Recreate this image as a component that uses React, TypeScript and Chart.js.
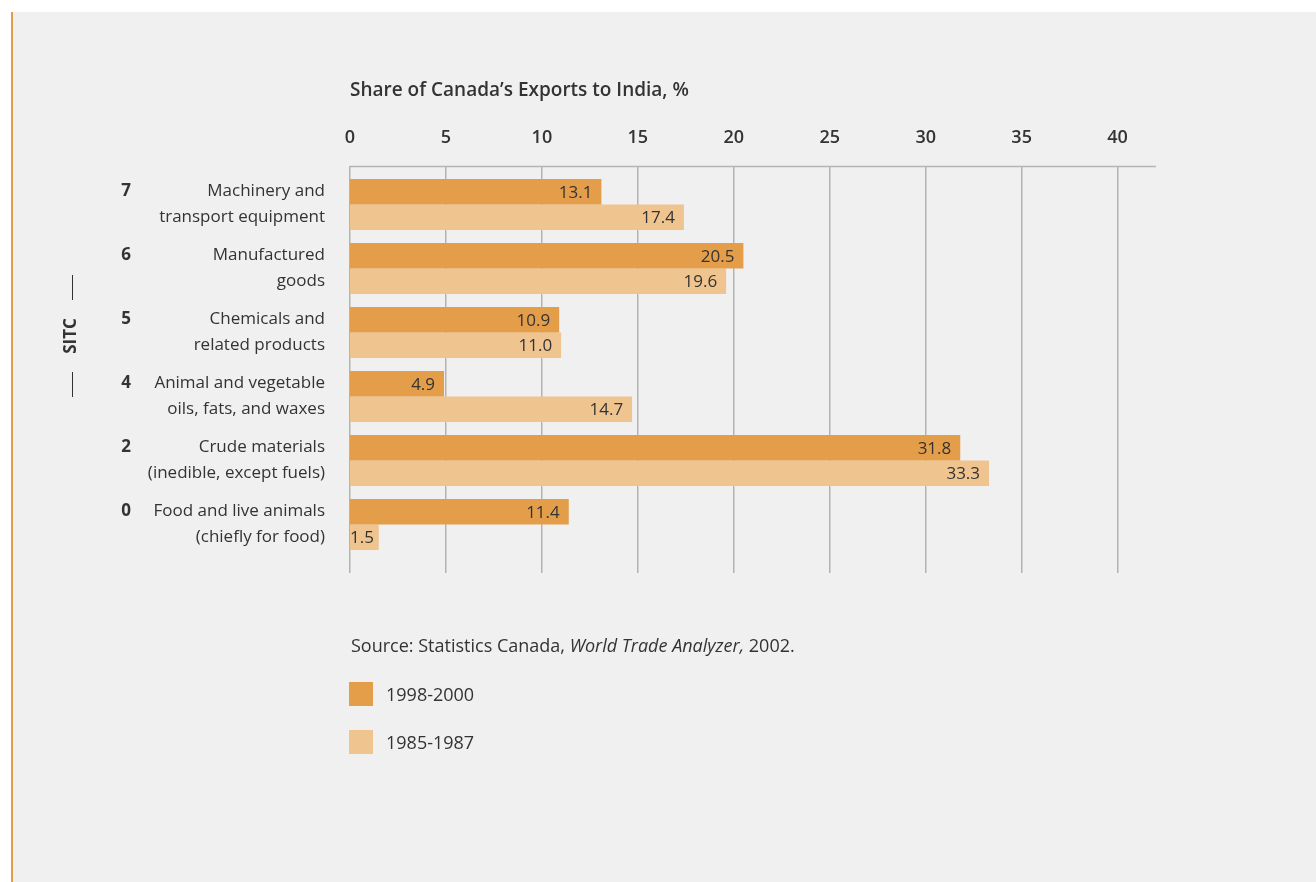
import React, { useEffect, useRef } from "react";
import { Chart, registerables } from "chart.js";

Chart.register(...registerables);

const categories: string[][] = [
  ["Machinery and", "transport equipment"],
  ["Manufactured", "goods"],
  ["Chemicals and", "related products"],
  ["Animal and vegetable", "oils, fats, and waxes"],
  ["Crude materials", "(inedible, except fuels)"],
  ["Food and live animals", "(chiefly for food)"],
];
const sitcCodes: string[] = ["7", "6", "5", "4", "2", "0"];
const recentValues: number[] = [13.1, 20.5, 10.9, 4.9, 31.8, 11.4];
const earlierValues: number[] = [17.4, 19.6, 11.0, 14.7, 33.3, 1.5];
const seriesNames: string[] = ["1998-2000", "1985-1987"];
const xTicks: number[] = [0, 5, 10, 15, 20, 25, 30, 35, 40];
const chartTitle = "Share of Canada\u2019s Exports to India, %";
const axisName = "SITC";

const DARK = "#E49E4A";
const LIGHT = "#F0C48E";
const TEXT = "#333333";
const GRID = "#b3b3b3";
const FONT = "'Open Sans', 'DejaVu Sans', sans-serif";

const gridPlugin = {
  id: "customGrid",
  beforeDatasetsDraw(chart: any) {
    const { ctx, chartArea, scales } = chart;
    const x = scales.x;
    const top = chartArea.top - 6;
    const bottom = chartArea.bottom + 16.5;
    ctx.save();
    ctx.strokeStyle = GRID;
    ctx.lineWidth = 1.5;
    xTicks.forEach((v) => {
      const px = Math.round(x.getPixelForValue(v)) - 0.25;
      ctx.beginPath();
      ctx.moveTo(px, top);
      ctx.lineTo(px, bottom);
      ctx.stroke();
    });
    ctx.beginPath();
    ctx.moveTo(x.getPixelForValue(0) - 0.75, top);
    ctx.lineTo(chartArea.right, top);
    ctx.stroke();
    ctx.restore();
  },
};

const labelPlugin = {
  id: "valueLabels",
  afterDatasetsDraw(chart: any) {
    const { ctx } = chart;
    ctx.save();
    ctx.font = `17px ${FONT}`;
    ctx.fillStyle = TEXT;
    ctx.textBaseline = "middle";
    chart.data.datasets.forEach((ds: any, di: number) => {
      const meta = chart.getDatasetMeta(di);
      meta.data.forEach((bar: any, i: number) => {
        const text = Number(ds.data[i]).toFixed(1);
        const w = ctx.measureText(text).width;
        let tx = bar.x - 9;
        if (tx - w < bar.base) {
          ctx.textAlign = "left";
          tx = bar.base;
        } else {
          ctx.textAlign = "right";
        }
        ctx.fillText(text, tx, bar.y + 1);
      });
    });
    ctx.restore();
  },
};

const sitcPlugin = {
  id: "sitcLabel",
  afterDraw(chart: any) {
    const { ctx } = chart;
    const cx = 71;
    const cy = 336;
    ctx.save();
    ctx.strokeStyle = TEXT;
    ctx.lineWidth = 1;
    ctx.beginPath();
    ctx.moveTo(72.5, 275);
    ctx.lineTo(72.5, 300);
    ctx.moveTo(72.5, 372);
    ctx.lineTo(72.5, 397);
    ctx.stroke();
    ctx.translate(cx, cy);
    ctx.rotate(-Math.PI / 2);
    ctx.font = `bold 17px ${FONT}`;
    ctx.fillStyle = TEXT;
    ctx.textAlign = "center";
    ctx.textBaseline = "middle";
    ctx.fillText(axisName, 0, 0);
    ctx.restore();
  },
};

export default function App() {
  const ref = useRef<HTMLCanvasElement | null>(null);

  useEffect(() => {
    if (!ref.current) return;
    const chart = new Chart(ref.current, {
      type: "bar",
      data: {
        labels: categories,
        datasets: [
          {
            label: seriesNames[0],
            data: recentValues,
            backgroundColor: DARK,
            barPercentage: 1,
            categoryPercentage: 0.8,
          },
          {
            label: seriesNames[1],
            data: earlierValues,
            backgroundColor: LIGHT,
            barPercentage: 1,
            categoryPercentage: 0.8,
          },
        ],
      },
      options: {
        indexAxis: "y",
        responsive: false,
        animation: false,
        events: [],
        layout: { padding: { left: 0, top: 0, right: 160, bottom: 325.5 } },
        plugins: {
          legend: { display: false },
          tooltip: { enabled: false },
          title: {
            display: true,
            text: chartTitle,
            align: "start",
            fullSize: false,
            color: TEXT,
            font: { family: FONT, size: 19, weight: "600", lineHeight: 1.2 },
            padding: { top: 79.6, bottom: 0 },
          },
        },
        scales: {
          x: {
            type: "linear",
            position: "top",
            min: 0,
            max: 42,
            grid: { display: false, drawTicks: false },
            border: { display: false },
            ticks: {
              stepSize: 5,
              includeBounds: false,
              padding: 23.7,
              color: TEXT,
              font: { family: FONT, size: 18, weight: "600", lineHeight: 1.2 },
            },
            afterFit: (s: any) => {
              s.height = 70.1;
            },
          },
          y: {
            type: "category",
            position: "left",
            weight: 1,
            grid: { display: false, drawTicks: false },
            border: { display: false },
            ticks: {
              padding: 25,
              color: TEXT,
              font: { family: FONT, size: 17, lineHeight: 1.53 },
            },
            afterFit: (s: any) => {
              s.width = 209;
            },
          },
          y2: {
            type: "category",
            position: "left",
            weight: 5,
            labels: sitcCodes.map((c) => [c, ""]),
            grid: { display: false, drawTicks: false },
            border: { display: false },
            ticks: {
              padding: 10,
              color: TEXT,
              font: { family: FONT, size: 17, weight: "bold", lineHeight: 1.53 },
            },
            afterFit: (s: any) => {
              s.width = 141;
            },
          },
        },
      },
      plugins: [gridPlugin, labelPlugin, sitcPlugin],
    });
    return () => chart.destroy();
  }, []);

  const textStyle: React.CSSProperties = {
    position: "absolute",
    fontFamily: FONT,
    fontSize: 18,
    color: TEXT,
    lineHeight: "24px",
    whiteSpace: "nowrap",
  };

  return (
    <div style={{ position: "absolute", left: 0, top: 0, width: 1316, height: 882, overflow: "hidden", background: "#ffffff" }}>
      <div
        style={{
          position: "absolute",
          left: 11,
          top: 12,
          width: 1305,
          height: 870,
          background: "#f0f0f0",
          borderLeft: "2px solid #E39C48",
          boxSizing: "border-box",
        }}
      />
      <canvas ref={ref} width={1316} height={882} style={{ position: "absolute", left: 0, top: 0 }} />
      <div style={{ ...textStyle, left: 351, top: 633 }}>
        Source: Statistics Canada, <i>World Trade Analyzer,</i> 2002.
      </div>
      <div style={{ position: "absolute", left: 349, top: 682, width: 24, height: 24, background: DARK }} />
      <div style={{ ...textStyle, left: 386, top: 682 }}>{seriesNames[0]}</div>
      <div style={{ position: "absolute", left: 349, top: 730, width: 24, height: 24, background: LIGHT }} />
      <div style={{ ...textStyle, left: 386, top: 730 }}>{seriesNames[1]}</div>
    </div>
  );
}
